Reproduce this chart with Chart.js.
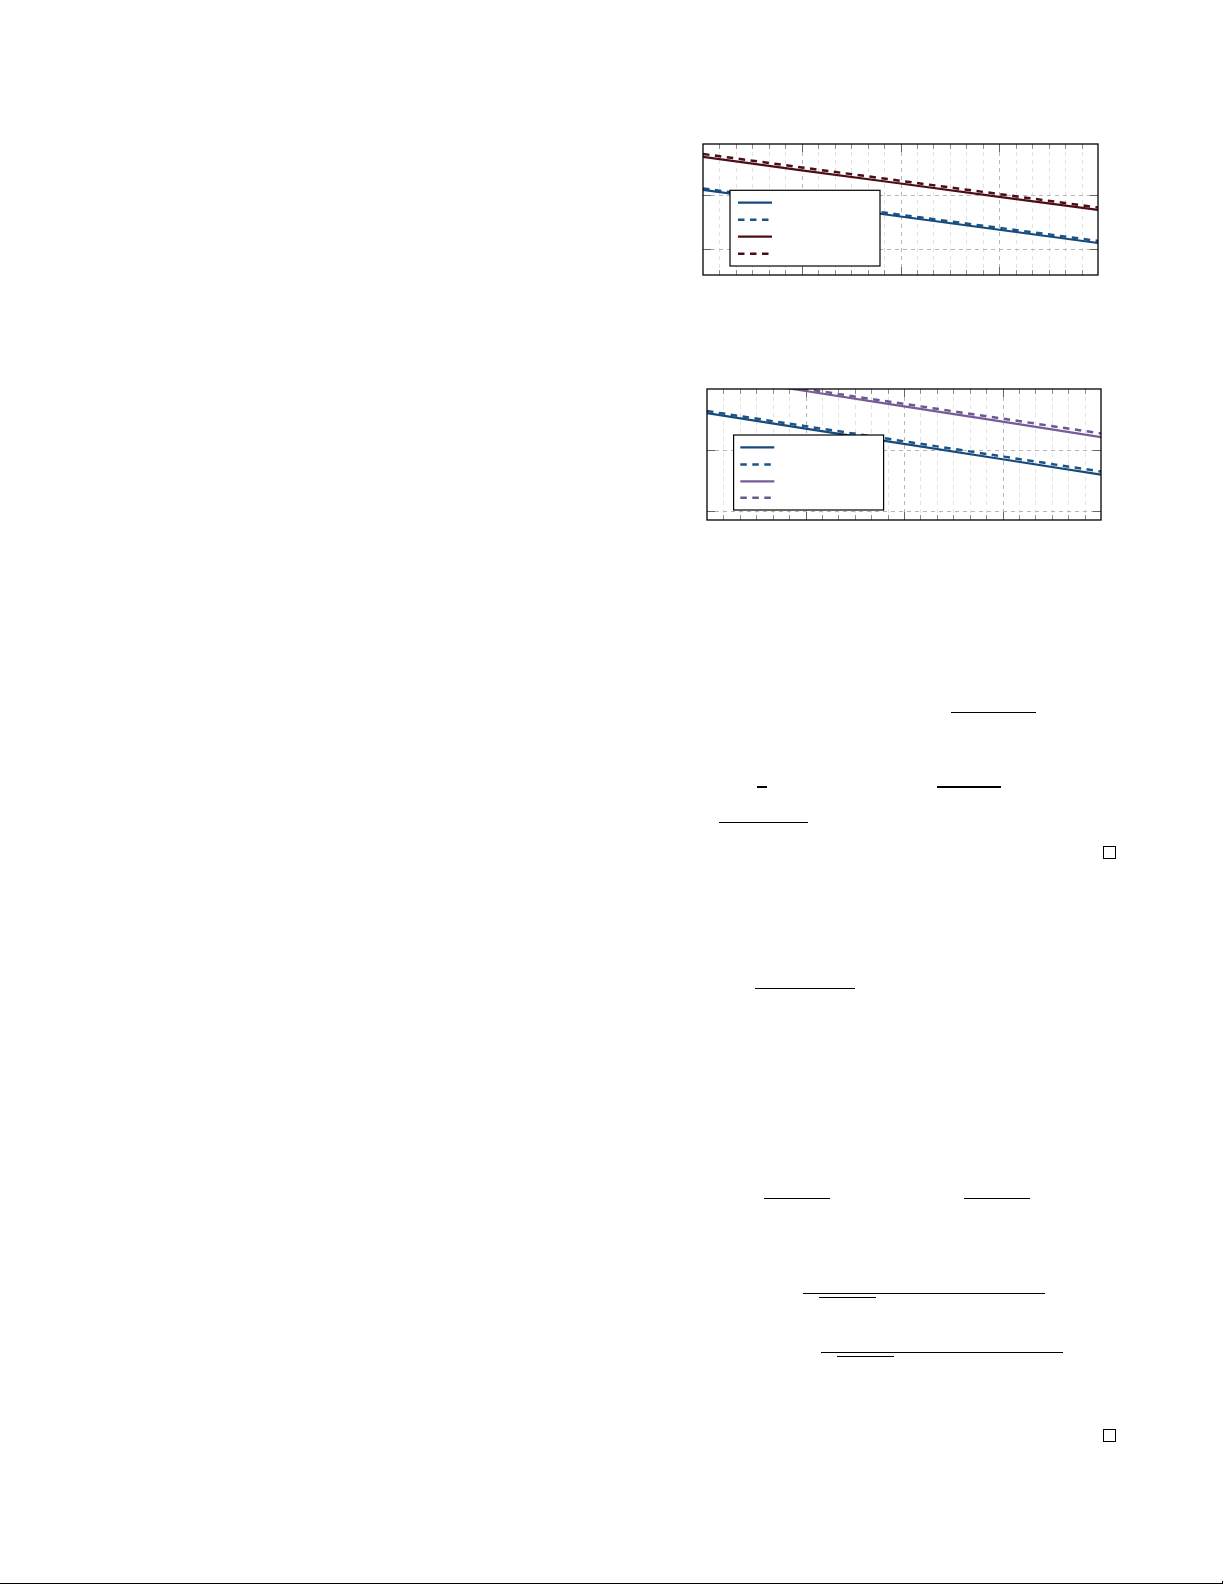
<!DOCTYPE html>
<html>
<head>
<meta charset="utf-8">
<script src="https://cdn.jsdelivr.net/npm/chart.js@4.4.1/dist/chart.umd.min.js"></script>
<style>
  html, body { margin: 0; padding: 0; background: #fff; }
  body { width: 1225px; height: 1585px; position: relative; overflow: hidden; font-family: "DejaVu Serif", serif; }
  canvas { position: absolute; }
  .bar { position: absolute; height: 1.4px; background: #000; }
  .qed { position: absolute; width: 11px; height: 11px; border: 1.3px solid #000; }
</style>
</head>
<body>

<canvas id="plotTop" width="407" height="143" style="left:697px;top:138px;width:407px;height:143px"></canvas>
<canvas id="plotBottom" width="406" height="143" style="left:700.7px;top:383.3px;width:406px;height:143px"></canvas>

<script>
// x positions shared by both plots (hours), read at every major grid line
const hours = [0, 6, 12, 18, 24];

// top plot
const topSeriesNames = ['', '', '', ''];
const topBlueSolid = [0.124, 0.0702, 0.040, 0.0227, 0.0129];
const topBlueDashed = [0.132, 0.0755, 0.043, 0.0246, 0.0141];
const topRedSolid = [0.506, 0.286, 0.163, 0.0926, 0.0528];
const topRedDashed = [0.574, 0.324, 0.183, 0.104, 0.0587];

// bottom plot
const bottomSeriesNames = ['', '', '', ''];
const bottomBlueSolid = [0.397, 0.222, 0.125, 0.0703, 0.0395];
const bottomBlueDashed = [0.428, 0.243, 0.138, 0.078, 0.0443];
const bottomPurpleSolid = [1.61, 0.907, 0.511, 0.287, 0.161];
const bottomPurpleDashed = [1.70, 0.975, 0.560, 0.322, 0.185];

// axis limits
const xMin = 0, xMax = 24, xMajorStep = 6;
const topYMin = 0.0033, topYMax = 0.879;
const bottomYMin = 0.00721, bottomYMax = 0.978;
const yDecades = [0.01, 0.1];

function pts(vals) {
    return hours.map((h, i) => ({ x: h, y: vals[i] }));
}

function hline(ctx, x1, y1, x2, y2) {
    ctx.beginPath();
    ctx.moveTo(x1, y1);
    ctx.lineTo(x2, y2);
    ctx.stroke();
}

// dashed grid, inward ticks, legend box and frame, all placed through the chart scales
const frameGrid = {
    id: 'frameGrid',
    beforeDatasetsDraw(chart) {
        const { ctx, chartArea: a, scales: { x, y } } = chart;
        ctx.save();
        ctx.lineWidth = 1;
        ctx.setLineDash([4, 4]);
        for (let v = xMin + 1; v < xMax; v++) {
            const px = Math.round(x.getPixelForValue(v)) + 0.5;
            ctx.strokeStyle = v % xMajorStep === 0 ? '#b5b5b5' : '#e2e2e2';
            hline(ctx, px, a.top, px, a.bottom);
        }
        ctx.strokeStyle = '#b5b5b5';
        yDecades.forEach(d => {
            const py = Math.round(y.getPixelForValue(d)) + 0.5;
            hline(ctx, a.left, py, a.right, py);
        });
        ctx.restore();
    },
    afterDatasetsDraw(chart, args, opts) {
        const { ctx, chartArea: a, scales: { x, y } } = chart;
        ctx.save();
        ctx.lineWidth = 1;
        // inward ticks on top and bottom
        for (let v = xMin + 1; v < xMax; v++) {
            const px = Math.round(x.getPixelForValue(v)) + 0.5;
            const major = v % xMajorStep === 0;
            const len = major ? 8 : 5;
            ctx.strokeStyle = major ? '#666' : '#8c8c8c';
            hline(ctx, px, a.bottom, px, a.bottom - len);
            hline(ctx, px, a.top, px, a.top + len);
        }
        ctx.strokeStyle = '#666';
        yDecades.forEach(d => {
            const py = Math.round(y.getPixelForValue(d)) + 0.5;
            hline(ctx, a.left, py, a.left + 8, py);
            hline(ctx, a.right, py, a.right - 8, py);
        });

        // legend box
        const lg = opts.legend;
        const bx = a.left + lg.dx, by = a.top + lg.dy;
        ctx.fillStyle = '#fff';
        ctx.fillRect(bx, by, lg.w, lg.h);
        ctx.strokeStyle = '#000';
        ctx.lineWidth = 1.2;
        ctx.strokeRect(bx, by, lg.w, lg.h);
        chart.data.datasets.forEach((ds, i) => {
            const ry = by + lg.rows[i];
            ctx.strokeStyle = ds.borderColor;
            ctx.lineWidth = ds.borderWidth;
            ctx.setLineDash(ds.borderDash || []);
            hline(ctx, bx + lg.sx1, ry, bx + lg.sx2, ry);
            // series names are blank in the source picture
            ctx.setLineDash([]);
            ctx.fillStyle = '#000';
            ctx.font = '11px "DejaVu Serif"';
            ctx.fillText(ds.label, bx + lg.sx2 + 8, ry + 4);
        });

        // frame
        ctx.setLineDash([]);
        ctx.strokeStyle = '#000';
        ctx.lineWidth = 1.3;
        ctx.strokeRect(a.left, a.top, a.right - a.left, a.bottom - a.top);
        ctx.restore();
    }
};

function makeChart(id, sets, yMin, yMax, legend) {
    return new Chart(document.getElementById(id), {
        type: 'line',
        data: {
            datasets: sets.map(s => ({
                label: s.label,
                data: pts(s.vals),
                borderColor: s.color,
                borderWidth: s.dash.length ? 2.5 : 2.2,
                borderDash: s.dash,
                pointRadius: 0,
                tension: 0,
                fill: false
            }))
        },
        options: {
            responsive: false,
            animation: false,
            layout: { padding: 6 },
            scales: {
                x: { type: 'linear', min: xMin, max: xMax, display: false },
                y: { type: 'logarithmic', min: yMin, max: yMax, display: false }
            },
            plugins: {
                legend: { display: false },
                tooltip: { enabled: false },
                frameGrid: { legend: legend }
            }
        },
        plugins: [frameGrid]
    });
}

const blue = '#174a7c';
const blueDash = '#1a5488';
const maroon = '#4b0d16';
const purple = '#775b98';
const purpleDash = '#6c5890';

makeChart('plotTop', [
    { label: topSeriesNames[0], vals: topBlueSolid, color: blue, dash: [] },
    { label: topSeriesNames[1], vals: topBlueDashed, color: blueDash, dash: [6.5, 5.5] },
    { label: topSeriesNames[2], vals: topRedSolid, color: maroon, dash: [] },
    { label: topSeriesNames[3], vals: topRedDashed, color: maroon, dash: [6.5, 5.5] }
], topYMin, topYMax, { dx: 27, dy: 46.3, w: 150, h: 75.7, sx1: 8, sx2: 42, rows: [12.4, 29.4, 46.4, 63.4] });

makeChart('plotBottom', [
    { label: bottomSeriesNames[0], vals: bottomBlueSolid, color: blue, dash: [] },
    { label: bottomSeriesNames[1], vals: bottomBlueDashed, color: blueDash, dash: [6.5, 5.5] },
    { label: bottomSeriesNames[2], vals: bottomPurpleSolid, color: purple, dash: [] },
    { label: bottomSeriesNames[3], vals: bottomPurpleDashed, color: purpleDash, dash: [6.5, 5.5] }
], bottomYMin, bottomYMax, { dx: 26.6, dy: 46, w: 150, h: 75, sx1: 6.7, sx2: 40.7, rows: [12.4, 29.4, 46.4, 62.7] });
</script>

<!-- fraction bars and end-of-proof marks left on the page -->
<div class="bar" style="left:951px;top:711.6px;width:85px"></div>
<div class="bar" style="left:757.3px;top:786.3px;width:9.4px"></div>
<div class="bar" style="left:936.7px;top:786.3px;width:64px"></div>
<div class="bar" style="left:719.3px;top:821.6px;width:88.7px"></div>
<div class="qed" style="left:1103.3px;top:846px"></div>
<div class="bar" style="left:755px;top:987.6px;width:100px"></div>
<div class="bar" style="left:764px;top:1198px;width:66px"></div>
<div class="bar" style="left:964.3px;top:1198px;width:65.7px"></div>
<div class="bar" style="left:802.7px;top:1292.6px;width:242.3px"></div>
<div class="bar" style="left:819px;top:1296.6px;width:57px"></div>
<div class="bar" style="left:821px;top:1351.6px;width:242.3px"></div>
<div class="bar" style="left:836.7px;top:1356px;width:57.3px"></div>
<div class="qed" style="left:1103px;top:1429px"></div>
<div class="bar" style="left:0px;top:1583px;width:1222.7px"></div>
<div style="position:absolute;left:1221.5px;top:1581px;width:1.2px;height:3px;background:#000"></div>

</body>
</html>
